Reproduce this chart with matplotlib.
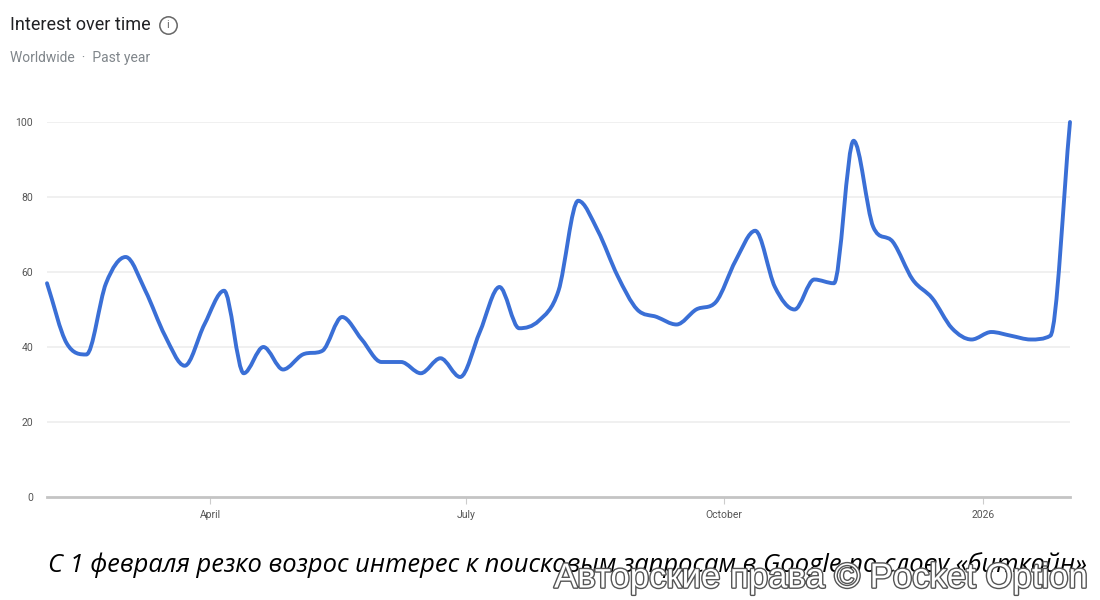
import numpy as np
import matplotlib.pyplot as plt
import matplotlib.dates as mdates
from matplotlib.path import Path
from matplotlib.patches import PathPatch
from matplotlib.lines import Line2D
import matplotlib.patheffects as pe
import datetime as dt

# weekly Google Trends values, Feb 2025 - Feb 2026
start = dt.date(2025, 2, 2)
values = [57, 41, 38, 57, 64, 55, 43, 35, 46, 55, 33, 40, 34, 38, 39, 48, 42,
          36, 36, 33, 37, 32, 44, 56, 45, 47, 55, 79, 71, 59, 50, 48, 46, 50,
          52, 63, 71, 56, 50, 58, 57, 95, 72, 68, 58, 53, 45, 42, 44, 43, 42,
          43, 100]
weeks = [start + dt.timedelta(weeks=i) for i in range(len(values))]
tick_dates = [dt.date(2025, 4, 1), dt.date(2025, 7, 1), dt.date(2025, 10, 1), dt.date(2026, 1, 1)]
tick_labels = ["April", "July", "October", "2026"]
y_ticks = [0, 20, 40, 60, 80, 100]

title = "Interest over time"
subtitle = "Worldwide  ·  Past year"
caption = "С 1 февраля резко возрос интерес к поисковым запросам в Google по слову «биткойн»"
watermark = "Авторские права © Pocket Option"


def monotone_path(x, y):
    """Bezier path through the points with monotone cubic tangents (like d3 curveMonotoneX)."""
    x = np.asarray(x, float)
    y = np.asarray(y, float)
    h = np.diff(x)
    s = np.diff(y) / h
    m = np.zeros_like(y)
    m[0], m[-1] = s[0], s[-1]
    for i in range(1, len(y) - 1):
        if s[i - 1] * s[i] <= 0:
            m[i] = 0
        else:
            m[i] = (s[i - 1] * h[i] + s[i] * h[i - 1]) / (h[i - 1] + h[i])
            m[i] = np.sign(m[i]) * min(abs(m[i]), 3 * min(abs(s[i - 1]), abs(s[i])))
    verts = [(x[0], y[0])]
    codes = [Path.MOVETO]
    for i in range(len(h)):
        d = h[i] / 3
        verts += [(x[i] + d, y[i] + m[i] * d), (x[i + 1] - d, y[i + 1] - m[i + 1] * d), (x[i + 1], y[i + 1])]
        codes += [Path.CURVE4] * 3
    return Path(verts, codes)


fig = plt.figure(figsize=(11, 6), dpi=100)
ax = fig.add_axes([47 / 1100, 103 / 600, 1023 / 1100, 375 / 600])

xnum = mdates.date2num(weeks)
patch = PathPatch(monotone_path(xnum, values), facecolor="none", edgecolor="#3a6fd6",
                  lw=2.8, capstyle="round", joinstyle="round", clip_on=False, zorder=3)
ax.add_patch(patch)

ax.set_xlim(xnum[0], xnum[-1])
ax.set_ylim(0, 100)
ax.set_yticks(y_ticks)
ax.set_yticklabels([str(v) for v in y_ticks], fontsize=7.5, color="#555555", family="Roboto")
for v in y_ticks[1:]:
    ax.axhline(v, color="#ececec", lw=1.1, zorder=1)
ax.axhline(0, color="#c4c4c4", lw=2, zorder=2, clip_on=False)

ax.set_xticks(mdates.date2num(tick_dates))
ax.set_xticklabels(tick_labels, fontsize=7.5, color="#555555", family="Roboto")
ax.tick_params(axis="x", length=5, width=0.8, color="#cccccc", pad=4)
ax.tick_params(axis="y", length=0, pad=10)
for sp in ax.spines.values():
    sp.set_visible(False)

fig.text(10 / 1100, 1 - 25 / 600, title, fontsize=13, family="Roboto", color="#202124", va="center")
fig.add_artist(Line2D([168 / 1100], [1 - 25 / 600], transform=fig.transFigure, marker="o",
                      markersize=12.5, mfc="none", mec="#666666", mew=1.1))
fig.text(168 / 1100, 1 - 25 / 600, "i", fontsize=8, family="Roboto", color="#666666",
         ha="center", va="center")
fig.text(10 / 1100, 1 - 58 / 600, subtitle, fontsize=10, family="Roboto", color="#80868b", va="center")

# caption with the watermark laid over its right end, as in the source image
fig.text(567 / 1100, 1 - 565 / 600, caption, fontsize=18.4, family="Open Sans",
         style="italic", color="black", ha="center", va="center")
fig.text(1088 / 1100, 1 - 578 / 600, watermark, fontsize=25, family="Liberation Sans",
         color="white", ha="right", va="center",
         path_effects=[pe.withStroke(linewidth=2, foreground="#555555")])

fig.savefig("out.png", dpi=100)
